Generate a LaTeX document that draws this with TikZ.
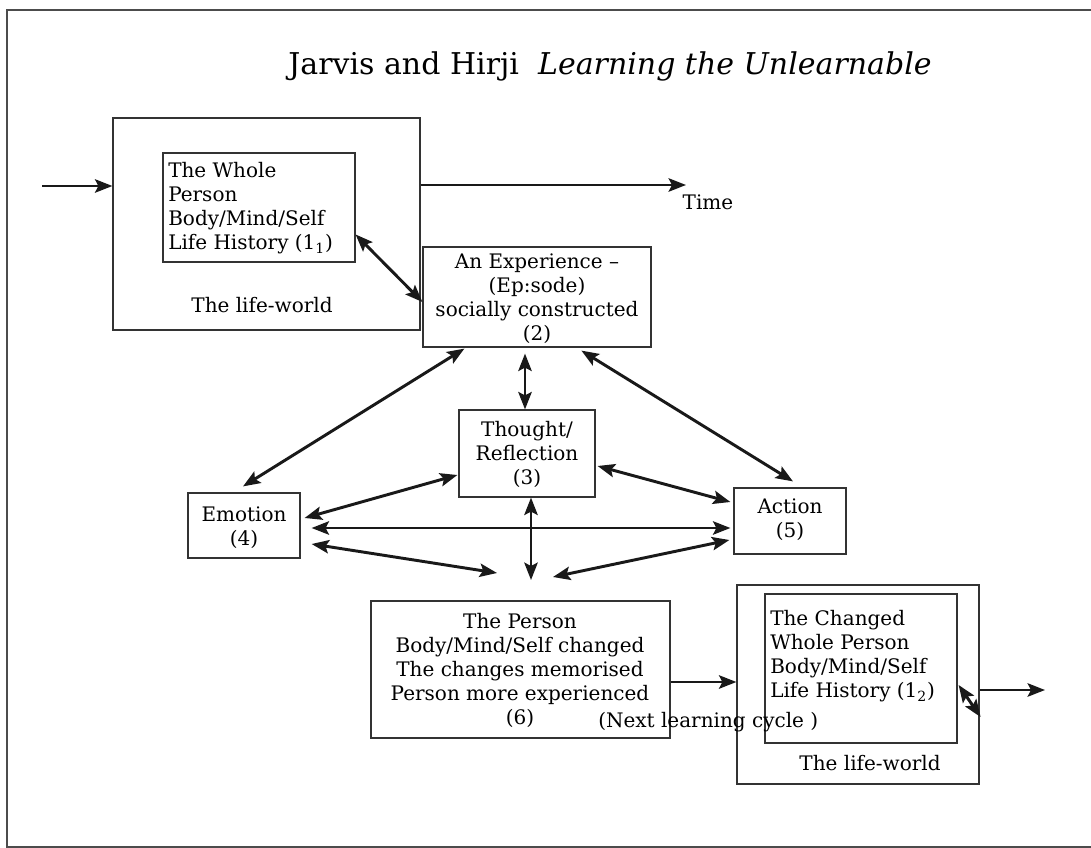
\documentclass[tikz,border=0pt]{standalone}
\usepackage{fontspec}
\setmainfont{DejaVu Serif}
\usetikzlibrary{arrows.meta,calc,fit}
\begin{document}
\begin{tikzpicture}[x=0.75pt,y=-0.75pt,
  >={Stealth[length=13pt,width=10pt,inset=2.5pt]},
  box/.style={draw=black!80,line width=0.9pt,inner sep=0pt},
  txt/.style={font=\fontsize{15}{18}\selectfont,inner sep=0pt,align=center},
  ltxt/.style={font=\fontsize{15}{18}\selectfont,inner sep=0pt,align=left,anchor=west},
  arr/.style={->,line width=2.2pt,black!90},
  darr/.style={<->,line width=2.2pt,black!90}]
\useasboundingbox (0,0) rectangle (1091,848);
\fill[white] (0,0) rectangle (1091,848);
% frame
\draw[line width=0.9pt,black!70] (1091,10) -- (7,10) -- (7,847) -- (1091,847);
% title
\node[font=\fontsize{22.5}{27}\selectfont,inner sep=0pt] (title) at (610,66) {Jarvis and Hirji\ \ \textit{Learning the Unlearnable}};
% first life-world
\node[box,fit={(113,118)(420,330)}] (outer1) {};
\node[box,fit={(163,153)(355,262)}] (inner1) {};
\node[ltxt] (inner1t) at (168,208) {The Whole\\Person\\Body/Mind/Self\\Life History (1\textsubscript{1})};
\node[txt] (lw1) at (262,305) {The life-world};
\coordinate (inStart) at (42,186);
\coordinate (timeEnd) at (686,185);
\node[txt] (time) at (708,202) {Time};
% experience etc.
\node[box,fit={(423,247)(651,347)}] (exp) {};
\node[txt] (expt) at (537,299) {An Experience –\\(Ep:sode)\\socially constructed\\(2)};
\node[box,fit={(459,410)(595,497)}] (thought) {};
\node[txt] (thoughtt) at (527,454) {Thought/\\Reflection\\(3)};
\node[box,fit={(188,493)(300,558)}] (emotion) {};
\node[txt] (emotiont) at (244,528) {Emotion\\(4)};
\node[box,fit={(734,488)(846,554)}] (action) {};
\node[txt] (actiont) at (790,520) {Action\\(5)};
\node[box,fit={(371,601)(670,738)}] (person) {};
\node[txt] (persont) at (520,670) {The Person\\Body/Mind/Self changed\\The changes memorised\\Person more experienced\\(6)};
% second life-world
\node[box,fit={(737,585)(979,784)}] (outer2) {};
\node[box,fit={(765,594)(957,743)}] (inner2) {};
\node[ltxt] (inner2t) at (770,656) {The Changed\\Whole Person\\Body/Mind/Self\\Life History (1\textsubscript{2})};
\node[txt] (lw2) at (870,763) {The life-world};
\node[ltxt] (next) at (598,722) {(Next learning cycle )};
\coordinate (outEnd) at (1045,690);
% free ends above the person box
\coordinate (p1) at (497,573);
\coordinate (p2) at (531,580);
\coordinate (p3) at (553,577);
\coordinate (pa) at ($(person.east)+(0,12.5)$);
% connectors
\draw[arr] (inStart) -- (inStart -| outer1.west);
\draw[arr] (timeEnd -| outer1.east) -- (timeEnd);
\draw[darr] ($(inner1.east)+(0,27)$) -- ($(exp.west)+(0,5)$);
\draw[darr] ($(thought.north)+(-2,0)$) -- ($(exp.south -| thought.north)+(-2,6)$);
\draw[darr] ($(exp.south west)+(42,1)$) -- ($(emotion.north)+(-1,-6)$);
\draw[darr] ($(exp.south west)+(159,3)$) -- ($(action.north)+(3,-6)$);
\draw[darr] ($(thought.west)+(-1,21.5)$) -- ($(emotion.east)+(4,-7.5)$);
\draw[darr] ($(thought.east)+(2,12.5)$) -- ($(action.west)+(-3,-19)$);
\draw[darr] ($(emotion.east)+(11,2.5)$) -- ($(action.west)+(-3,7)$);
\draw[darr] ($(thought.south)+(4,0)$) -- (p2);
\draw[darr] ($(emotion.east)+(11,18.5)$) -- (p1);
\draw[darr] ($(action.west)+(-4,19)$) -- (p3);
\draw[arr] (pa) -- (pa -| outer2.west);
\draw[darr] ($(inner2.east)+(1,16.5)$) -- ($(outer2.east)+(1,32.5)$);
\draw[arr] (outEnd -| outer2.east) -- (outEnd);
\end{tikzpicture}
\end{document}
